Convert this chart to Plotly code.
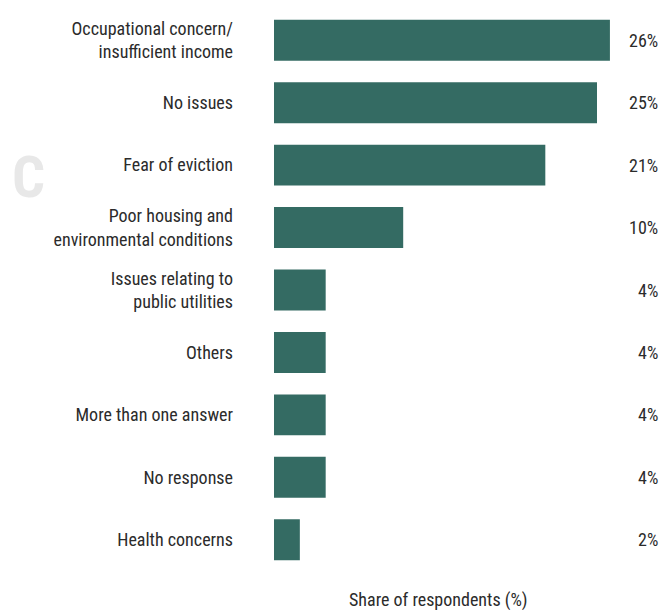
import plotly.graph_objects as go

categories = [
    "Occupational concern/<br>insufficient income",
    "No issues",
    "Fear of eviction",
    "Poor housing and<br>environmental conditions",
    "Issues relating to<br>public utilities",
    "Others",
    "More than one answer",
    "No response",
    "Health concerns",
]
values = [26, 25, 21, 10, 4, 4, 4, 4, 2]
value_labels = ["26%", "25%", "21%", "10%", "4%", "4%", "4%", "4%", "2%"]

FONT = "Liberation Sans Narrow, Arial Narrow, Roboto Condensed, sans-serif"
BAR = "#346b63"
TXT = "#2b2b2b"

L, T, B, W, H = 274, 9, 39, 663, 610
PW = W - L

fig = go.Figure(go.Bar(
    x=values, y=categories, orientation="h",
    marker=dict(color=BAR, line=dict(width=0)),
    width=0.656, hoverinfo="skip",
))

for c, lab in zip(categories, value_labels):
    fig.add_annotation(x=1, xref="paper", y=c, yref="y", text=lab,
                       xanchor="right", yanchor="middle", showarrow=False,
                       xshift=-3, font=dict(family=FONT, size=18, color=TXT))

fig.add_annotation(x=(438 - L) / PW, xref="paper", y=0, yref="paper",
                   yshift=-29, text="Share of respondents (%)", showarrow=False,
                   xanchor="center", yanchor="middle",
                   font=dict(family=FONT, size=18, color=TXT))

# faint cropped watermark letter
fig.add_annotation(x=(10 - L) / PW, xref="paper",
                   y=1 - (177 - T) / (H - T - B), yref="paper",
                   text="<b>C</b>", showarrow=False, xanchor="left", yanchor="middle",
                   font=dict(family=FONT, size=58, color="#e8e8e8"))

fig.update_layout(
    width=W, height=H,
    margin=dict(l=L, r=0, t=T, b=B, autoexpand=False),
    paper_bgcolor="white", plot_bgcolor="white",
    showlegend=False,
    bargap=0.344,
    xaxis=dict(range=[0, PW / 12.92], visible=False, fixedrange=True),
    yaxis=dict(autorange="reversed", showgrid=False, zeroline=False,
               showline=False, ticks="", ticklabelstandoff=40,
               tickfont=dict(family=FONT, size=18, color=TXT)),
)

fig.write_html("out.html", config={"displayModeBar": False},
               post_script="document.body.style.margin='0';")
